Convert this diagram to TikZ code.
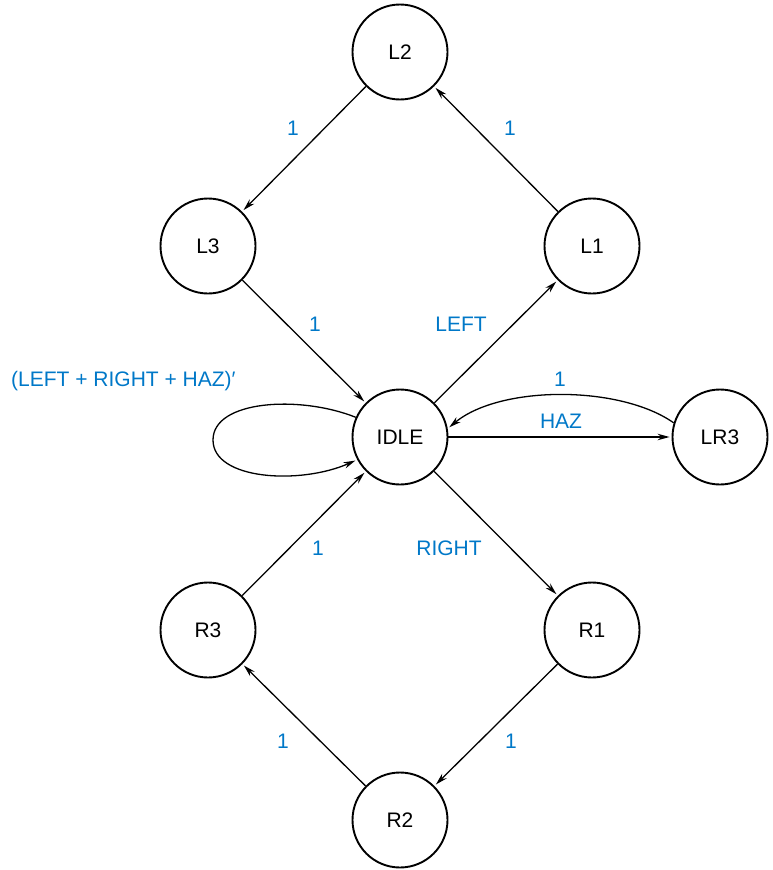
\documentclass[tikz,border=0pt]{standalone}
\usepackage{fontspec}
\setmainfont{Liberation Sans}
\usetikzlibrary{arrows.meta}
\definecolor{lblblue}{RGB}{0,120,200}
\begin{document}
\begin{tikzpicture}[x=1pt,y=-1pt,
  state/.style={circle,draw,line width=1.9pt,minimum size=95pt,inner sep=0pt,font=\fontsize{21}{24}\selectfont},
  edge/.style={line width=1.3pt,-{Stealth[length=12pt,width=6.5pt]},shorten >=2pt},
  lbl/.style={text=lblblue,font=\fontsize{21}{24}\selectfont,inner sep=0pt}]
\useasboundingbox (0,0) rectangle (772,870);
\node[state] (L2) at (400,52) {L2};
\node[state] (L3) at (208,246) {L3};
\node[state] (L1) at (592,246) {L1};
\node[state] (IDLE) at (400,437) {IDLE};
\node[state] (LR3) at (720,437) {LR3};
\node[state] (R3) at (208,630) {R3};
\node[state] (R1) at (592,630) {R1};
\node[state] (R2) at (400,820) {R2};
\draw[edge] (L2) -- (L3);
\draw[edge] (L1) -- (L2);
\draw[edge] (L3) -- (IDLE);
\draw[edge] (IDLE) -- (L1);
\draw[edge] (IDLE) -- (LR3);
\draw[edge] (LR3.163) .. controls (620,385) and (500,385) .. (IDLE.10);
\draw[edge] (IDLE) -- (R1);
\draw[edge] (R1) -- (R2);
\draw[edge] (R2) -- (R3);
\draw[edge] (R3) -- (IDLE);
\draw[edge] (IDLE.156) .. controls (300,395) and (213,400) .. (213,440) .. controls (213,480) and (300,485) .. (IDLE.208);
\node[lbl] (t1) at (293,128) {1};
\node[lbl] (t2) at (510,128) {1};
\node[lbl] (t3) at (315,324) {1};
\node[lbl] (t4) at (461,324) {LEFT};
\node[lbl,anchor=west] (t5) at (11,381) {(LEFT + RIGHT + HAZ)′};
\node[lbl] (t6) at (560,379) {1};
\node[lbl] (t7) at (561,421) {HAZ};
\node[lbl] (t8) at (449,548) {RIGHT};
\node[lbl] (t9) at (318,548) {1};
\node[lbl] (t10) at (283,741) {1};
\node[lbl] (t11) at (511,741) {1};
\end{tikzpicture}
\end{document}
